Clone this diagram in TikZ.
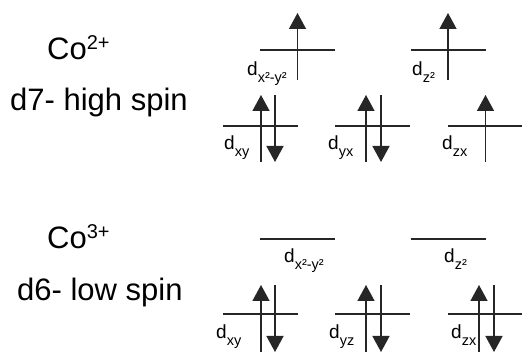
\documentclass[tikz,border=0pt]{standalone}
\usepackage{fontspec}
\setmainfont{Liberation Sans}
\usetikzlibrary{arrows.meta}
\tikzset{
  level/.style={draw=black!85,line width=1.5pt},
  spin/.style={draw=black!85,line width=1.5pt,-{Triangle[length=16pt,width=17pt]}},
  ion/.style={anchor=base west,inner sep=0pt,font=\fontsize{31}{31}\selectfont},
  orb/.style={anchor=base west,inner sep=0pt,font=\fontsize{19}{19}\selectfont},
}
\newcommand{\dorb}[1]{d\raisebox{-7pt}{\fontsize{14.5}{14.5}\selectfont #1}}
\newcommand{\chg}[1]{\raisebox{10pt}{\fontsize{20}{20}\selectfont #1}}

\begin{document}
\begin{tikzpicture}[x=1pt,y=-1pt]
  \useasboundingbox (0,0) rectangle (522,352);
  % ion labels
  \node[ion] (co2) at (47,60) {Co\chg{2+}};
  \node[ion] (hs) at (10,111) {d7- high spin};
  \node[ion] (co3) at (47,249) {Co\chg{3+}};
  \node[ion] (ls) at (17,301) {d6- low spin};

  % Co2+ levels
  \coordinate (a-x2) at (297.5,50);
  \coordinate (a-z2) at (448,50);
  \coordinate (a-xy) at (260,126);
  \coordinate (a-yx) at (372.5,126);
  \coordinate (a-zx) at (485.5,126);
  \foreach \c in {a-x2,a-z2,a-xy,a-yx,a-zx}
    \draw[level] ([xshift=-37.5pt]\c) -- ([xshift=37.5pt]\c);
  \draw[spin] ([yshift=-30pt]a-x2) -- ([yshift=37pt]a-x2);
  \draw[spin] ([yshift=-30pt]a-z2) -- ([yshift=37pt]a-z2);
  \draw[spin] ([xshift=1pt,yshift=-36pt]a-xy) -- ([xshift=1pt,yshift=31pt]a-xy);
  \draw[spin] ([xshift=15pt,yshift=31pt]a-xy) -- ([xshift=15pt,yshift=-36pt]a-xy);
  \draw[spin] ([xshift=-6.5pt,yshift=-36pt]a-yx) -- ([xshift=-6.5pt,yshift=31pt]a-yx);
  \draw[spin] ([xshift=8.5pt,yshift=31pt]a-yx) -- ([xshift=8.5pt,yshift=-36pt]a-yx);
  \draw[spin] ([yshift=-36pt]a-zx) -- ([yshift=31pt]a-zx);
  \node[orb] (la-x2) at (247,76) {\dorb{x²-y²}};
  \node[orb] (la-z2) at (412,76) {\dorb{z²}};
  \node[orb] (la-xy) at (224,150) {\dorb{xy}};
  \node[orb] (la-yx) at (328,150) {\dorb{yx}};
  \node[orb] (la-zx) at (442,150) {\dorb{zx}};

  % Co3+ levels
  \coordinate (b-x2) at (297.5,239);
  \coordinate (b-z2) at (448,239);
  \coordinate (b-xy) at (260,314);
  \coordinate (b-yz) at (372.5,314);
  \coordinate (b-zx) at (485.5,314);
  \foreach \c in {b-x2,b-z2,b-xy,b-yz,b-zx}
    \draw[level] ([xshift=-37.5pt]\c) -- ([xshift=37.5pt]\c);
  \draw[spin] ([xshift=1pt,yshift=-38pt]b-xy) -- ([xshift=1pt,yshift=29pt]b-xy);
  \draw[spin] ([xshift=15pt,yshift=29pt]b-xy) -- ([xshift=15pt,yshift=-38pt]b-xy);
  \draw[spin] ([xshift=-6.5pt,yshift=-38pt]b-yz) -- ([xshift=-6.5pt,yshift=29pt]b-yz);
  \draw[spin] ([xshift=8.5pt,yshift=29pt]b-yz) -- ([xshift=8.5pt,yshift=-38pt]b-yz);
  \draw[spin] ([xshift=-6.5pt,yshift=-38pt]b-zx) -- ([xshift=-6.5pt,yshift=29pt]b-zx);
  \draw[spin] ([xshift=8.5pt,yshift=29pt]b-zx) -- ([xshift=8.5pt,yshift=-38pt]b-zx);
  \node[orb] (lb-x2) at (284,263) {\dorb{x²-y²}};
  \node[orb] (lb-z2) at (444,263) {\dorb{z²}};
  \node[orb] (lb-xy) at (216,339) {\dorb{xy}};
  \node[orb] (lb-yz) at (329,339) {\dorb{yz}};
  \node[orb] (lb-zx) at (451,339) {\dorb{zx}};
\end{tikzpicture}
\end{document}
